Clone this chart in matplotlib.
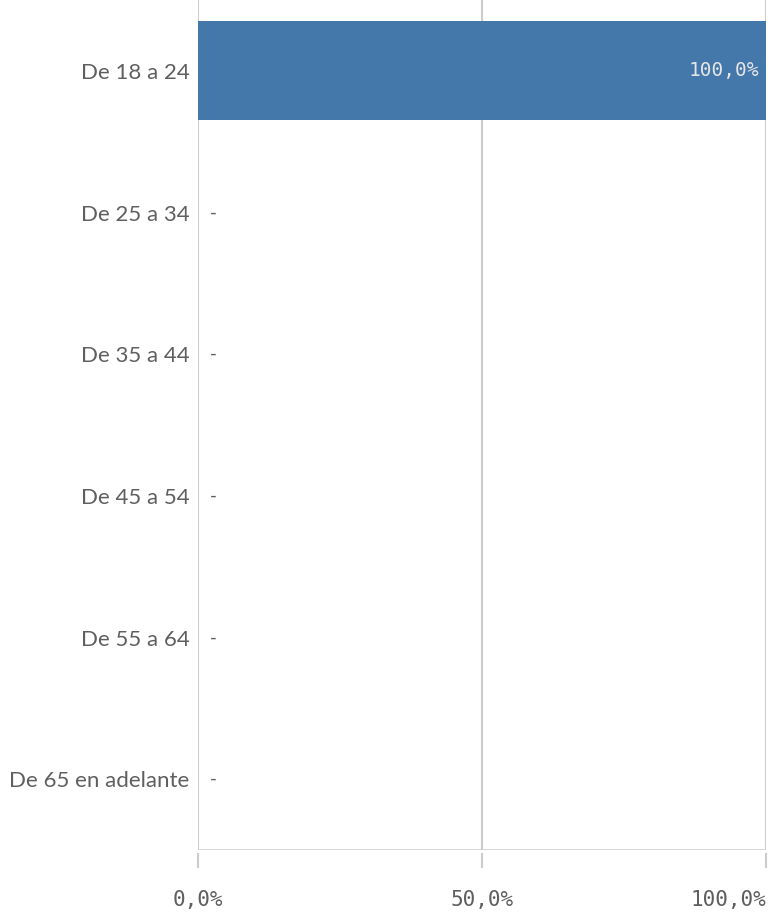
import numpy as np
import matplotlib
matplotlib.use('Agg')
import matplotlib.pyplot as plt

# data
categories = ["De 18 a 24", "De 25 a 34", "De 35 a 44", "De 45 a 54", "De 55 a 64", "De 65 en adelante"]
values = [100.0, np.nan, np.nan, np.nan, np.nan, np.nan]
x_ticks = [0, 50, 100]
x_tick_labels = ["0,0%", "50,0%", "100,0%"]

bar_color = '#4477aa'
grid_color = '#cccccc'
text_color = '#5f5f5f'

fig = plt.figure(figsize=(7.69, 9.13), dpi=100)
ax = fig.add_axes([198 / 769, 63 / 913, 568 / 769, 850 / 913])

y_pos = np.arange(len(categories))
plot_vals = [0 if np.isnan(v) else v for v in values]
ax.barh(y_pos, plot_vals, height=0.7, color=bar_color, zorder=2)

ax.set_xlim(0, 100)
ax.set_ylim(len(categories) - 0.5, -0.5)

# value labels
for i, v in enumerate(values):
    if np.isnan(v):
        ax.annotate("-", xy=(0, i), xytext=(7, 0), textcoords='offset points',
                    ha='left', va='center', fontsize=13, color=text_color,
                    family='DejaVu Sans Mono')
    else:
        ax.annotate(f"{v:.1f}%".replace('.', ','), xy=(v, i), xytext=(-5, 0),
                    textcoords='offset points', ha='right', va='center',
                    fontsize=14, color='#e6e6e6', family='DejaVu Sans Mono', zorder=3)

# gridlines
for t in x_ticks:
    ax.axvline(t, color=grid_color, lw=1.5, zorder=1)
ax.axhline(len(categories) - 0.5, color=grid_color, lw=1.8, zorder=1)

for s in ['top', 'right', 'left']:
    ax.spines[s].set_visible(False)
ax.spines['bottom'].set_position(('outward', 2.5))
ax.spines['bottom'].set_visible(False)

ax.set_yticks(y_pos)
ax.set_yticklabels(categories, fontsize=16, color=text_color, family='Lato')
ax.tick_params(axis='y', length=0, pad=6)

ax.set_xticks(x_ticks)
ax.set_xticklabels(x_tick_labels, fontsize=15, color=text_color, family='DejaVu Sans Mono')
ax.tick_params(axis='x', length=10.5, width=1.5, color=grid_color, pad=16)
tl = ax.get_xticklabels()
tl[-1].set_ha('right')
tl[-1].set_x(100)

fig.savefig('out.png', dpi=100)
